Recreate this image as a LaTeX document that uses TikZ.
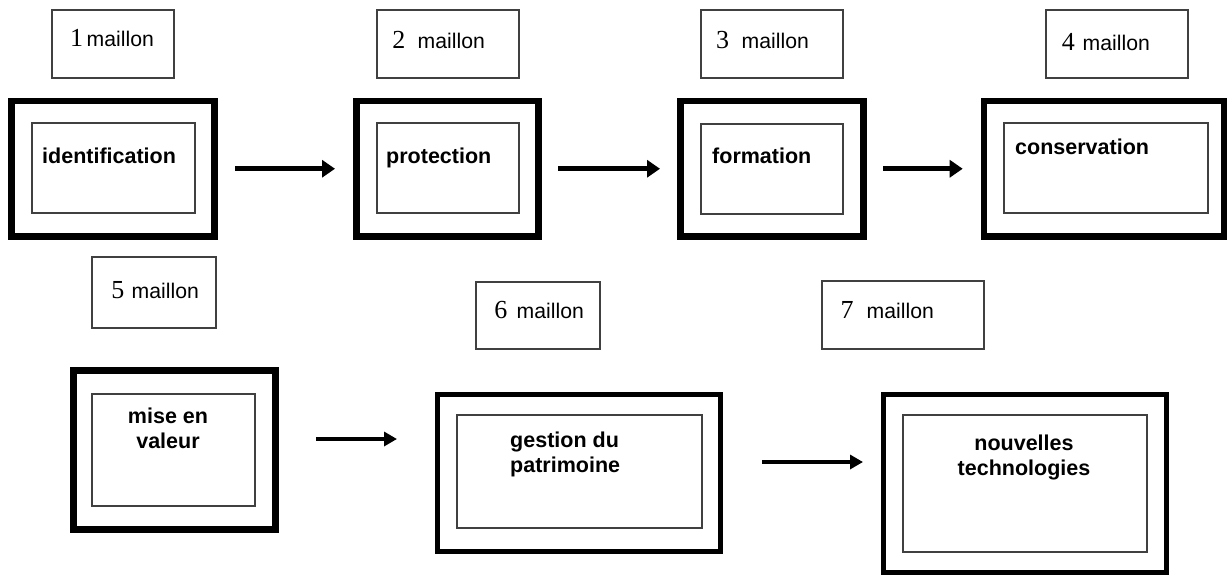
\documentclass[tikz,border=0pt]{standalone}
\usepackage{fontspec}
\setmainfont{Liberation Sans}
\newfontfamily\digitfont{Liberation Serif}
\usetikzlibrary{arrows.meta}
% serif numeral in front of each "maillon" tag
\newcommand\numtag[1]{{\digitfont\fontsize{26}{26}\selectfont #1}}
\begin{document}
\begin{tikzpicture}[x=1pt, y=-1pt,
  outerbox/.style={draw=black, line width=6.5pt, inner sep=0pt, outer sep=0pt},
  thinouter/.style={outerbox, line width=5.5pt},
  innerbox/.style={draw=black!75, line width=1.8pt, inner sep=0pt, outer sep=0pt},
  tagbox/.style={draw=black!75, line width=1.8pt, inner sep=0pt, outer sep=0pt},
  tagtext/.style={anchor=base west, inner sep=0pt, font=\fontsize{21.2}{25}\selectfont},
  stage/.style={anchor=base west, inner sep=0pt, font=\bfseries\fontsize{21.5}{25.5}\selectfont},
  flowA/.style={-{Triangle[length=13pt,width=17pt]}, line width=5pt},
  flowB/.style={-{Triangle[length=13pt,width=14pt]}, line width=3.8pt}]
\useasboundingbox (0,0) rectangle (1230,576);

% ---- top row: tags ----
\node[tagbox, minimum width=122pt, minimum height=68pt] (L1) at (113,44) {};
\node[tagbox, minimum width=142pt, minimum height=68pt] (L2) at (448,44) {};
\node[tagbox, minimum width=142pt, minimum height=68pt] (L3) at (772,44) {};
\node[tagbox, minimum width=142pt, minimum height=68pt] (L4) at (1117,44) {};
\node[tagtext] (t1) at (69.8,46) {\numtag{1}\hspace{3.7pt}maillon};
\node[tagtext] (t2) at (392.2,48) {\numtag{2}\hspace{12.3pt}maillon};
\node[tagtext] (t3) at (715.9,48) {\numtag{3}\hspace{12.6pt}maillon};
\node[tagtext] (t4) at (1061.7,50) {\numtag{4}\hspace{7.8pt}maillon};

% ---- top row: stages ----
\node[outerbox, minimum width=203pt, minimum height=135.5pt] (b1) at (113,168.75) {};
\node[outerbox, minimum width=182pt, minimum height=135.5pt] (b2) at (447.5,168.75) {};
\node[outerbox, minimum width=183.4pt, minimum height=135.5pt] (b3) at (772,168.75) {};
\node[outerbox, minimum width=240pt, minimum height=135.5pt] (b4) at (1104,168.75) {};
\node[innerbox, minimum width=163pt, minimum height=90pt] (i1) at (113.5,168) {};
\node[innerbox, minimum width=142pt, minimum height=90pt] (i2) at (448,168) {};
\node[innerbox, minimum width=142pt, minimum height=90pt] (i3) at (772,169) {};
\node[innerbox, minimum width=204pt, minimum height=90pt] (i4) at (1106,168) {};
\node[stage] (s1) at (42,163) {identification};
\node[stage] (s2) at (386,163) {protection};
\node[stage] (s3) at (712,163) {formation};
\node[stage] (s4) at (1015,154) {conservation};

% ---- bottom row: tags ----
\node[tagbox, minimum width=124pt, minimum height=71pt] (L5) at (154,292.5) {};
\node[tagbox, minimum width=124pt, minimum height=67pt] (L6) at (538,315.5) {};
\node[tagbox, minimum width=162pt, minimum height=68pt] (L7) at (903,315) {};
\node[tagtext] (t5) at (111.2,298) {\numtag{5}\hspace{7.3pt}maillon};
\node[tagtext] (t6) at (494.1,318) {\numtag{6}\hspace{9.4pt}maillon};
\node[tagtext] (t7) at (840.5,318) {\numtag{7}\hspace{13pt}maillon};

% ---- bottom row: stages ----
\node[outerbox, minimum width=202pt, minimum height=159pt] (b5) at (174.5,450) {};
\node[thinouter, minimum width=283pt, minimum height=157pt] (b6) at (579,473) {};
\node[thinouter, minimum width=283pt, minimum height=178pt] (b7) at (1025,483.5) {};
\node[innerbox, minimum width=163pt, minimum height=112pt] (i5) at (173.5,450) {};
\node[innerbox, minimum width=245pt, minimum height=113pt] (i6) at (579.5,471.5) {};
\node[innerbox, minimum width=244pt, minimum height=137pt] (i7) at (1025,483.5) {};
\node[stage, anchor=base] (s5) at (168,423) {\begin{tabular}[t]{@{}c@{}}mise en\\valeur\end{tabular}};
\node[stage] (s6) at (510,447) {\begin{tabular}[t]{@{}l@{}}gestion du\\patrimoine\end{tabular}};
\node[stage, anchor=base] (s7) at (1024,450) {\begin{tabular}[t]{@{}c@{}}nouvelles\\technologies\end{tabular}};

% ---- chain arrows ----
\draw[flowA, shorten <=20.5pt, shorten >=21.5pt] (b1.east) -- (b2.west);
\draw[flowA, shorten <=19.5pt, shorten >=20.3pt] (b2.east) -- (b3.west);
\draw[flowA, shorten <=19.3pt, shorten >=21.3pt] (b3.east) -- (b4.west);
\draw[flowB, shorten <=40.5pt, shorten >=40.5pt] ([yshift=11pt]b5.east) -- ([yshift=34pt]b6.west);
\draw[flowB, shorten <=41.5pt, shorten >=20.5pt] ([yshift=11pt]b6.east) -- ([yshift=21.5pt]b7.west);
\end{tikzpicture}
\end{document}
